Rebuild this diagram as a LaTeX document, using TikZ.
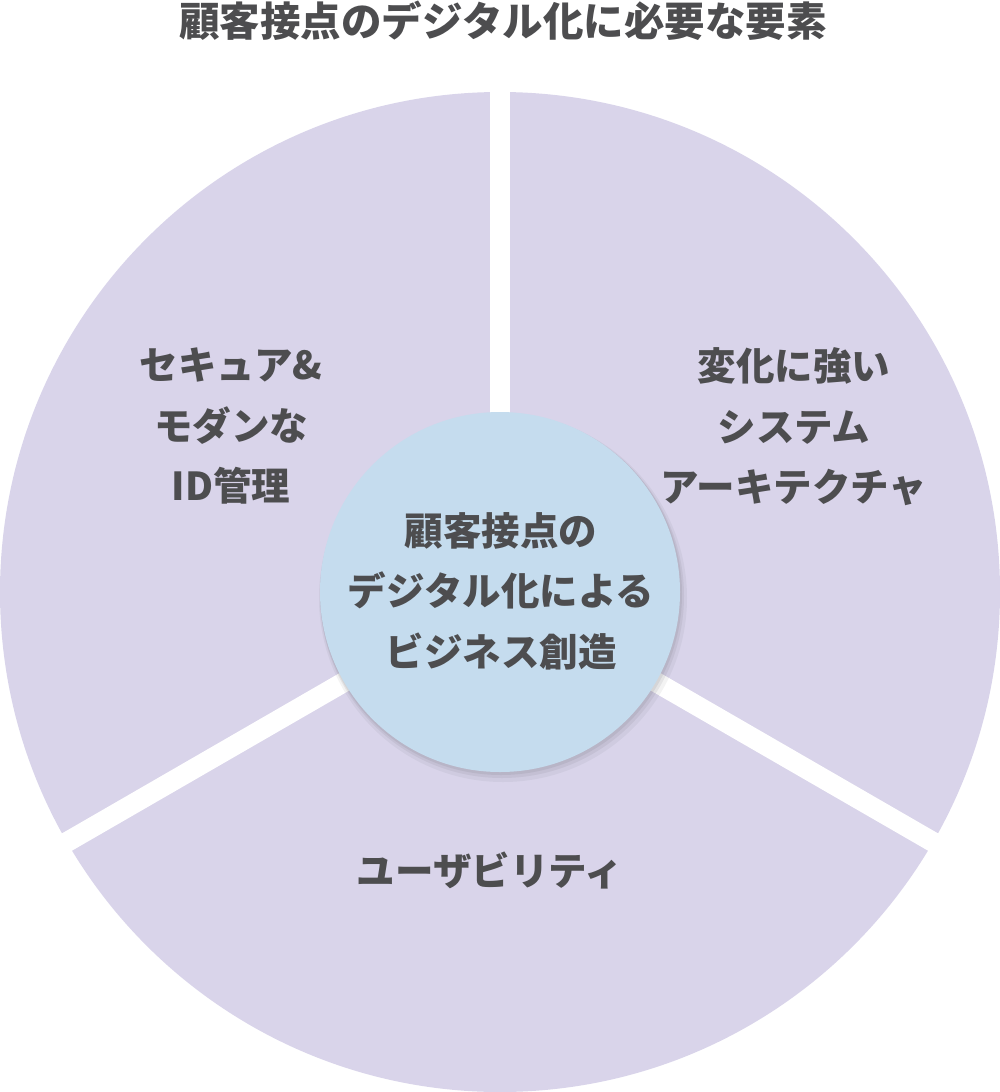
\documentclass[tikz,border=0pt]{standalone}
\usepackage{fontspec}
\setmainfont{Noto Sans CJK JP}
\definecolor{sect}{HTML}{D9D4EA}
\definecolor{hubc}{HTML}{C5DCEE}
\definecolor{txt}{HTML}{4D4D4F}
\begin{document}
\begin{tikzpicture}[x=1pt,y=-1pt,
  lbl/.style={text=txt, font=\fontsize{38.5}{60.5}\selectfont\bfseries, align=center, inner sep=0pt},
  gap/.style={white, line width=20pt}]
\useasboundingbox (0,0) rectangle (1000,1092);
\coordinate (c) at (500,592);
\coordinate (gt) at (500,60);
\coordinate (gl) at (49.7,852);
\coordinate (gr) at (950.3,852);
\fill[sect] (c) circle[radius=500];
\draw[gap] (c) -- (gt);
\draw[gap] (c) -- (gl);
\draw[gap] (c) -- (gr);
\fill[black!60!sect, opacity=0.07] (503,598) circle[radius=184];
\fill[black!60!sect, opacity=0.09] (502,596) circle[radius=182];
\fill[black!60!sect, opacity=0.10] (501,594) circle[radius=181];
\node[circle, fill=hubc, minimum size=360pt, inner sep=0pt] (hub) at (c) {};
\node[lbl] (hubtext) at (501,591) {顧客接点の\\デジタル化による\\ビジネス創造};
\node[lbl] (left) at (231,426) {セキュア\&\\モダンな\\ID管理};
\node[lbl] (right) at (794,427) {変化に強い\\システム\\アーキテクチャ};
\node[lbl] (bottom) at (490,870) {ユーザビリティ};
\node[lbl, font=\fontsize{40.5}{42}\selectfont\bfseries] (title) at (503,21) {顧客接点のデジタル化に必要な要素};
\end{tikzpicture}
\end{document}
